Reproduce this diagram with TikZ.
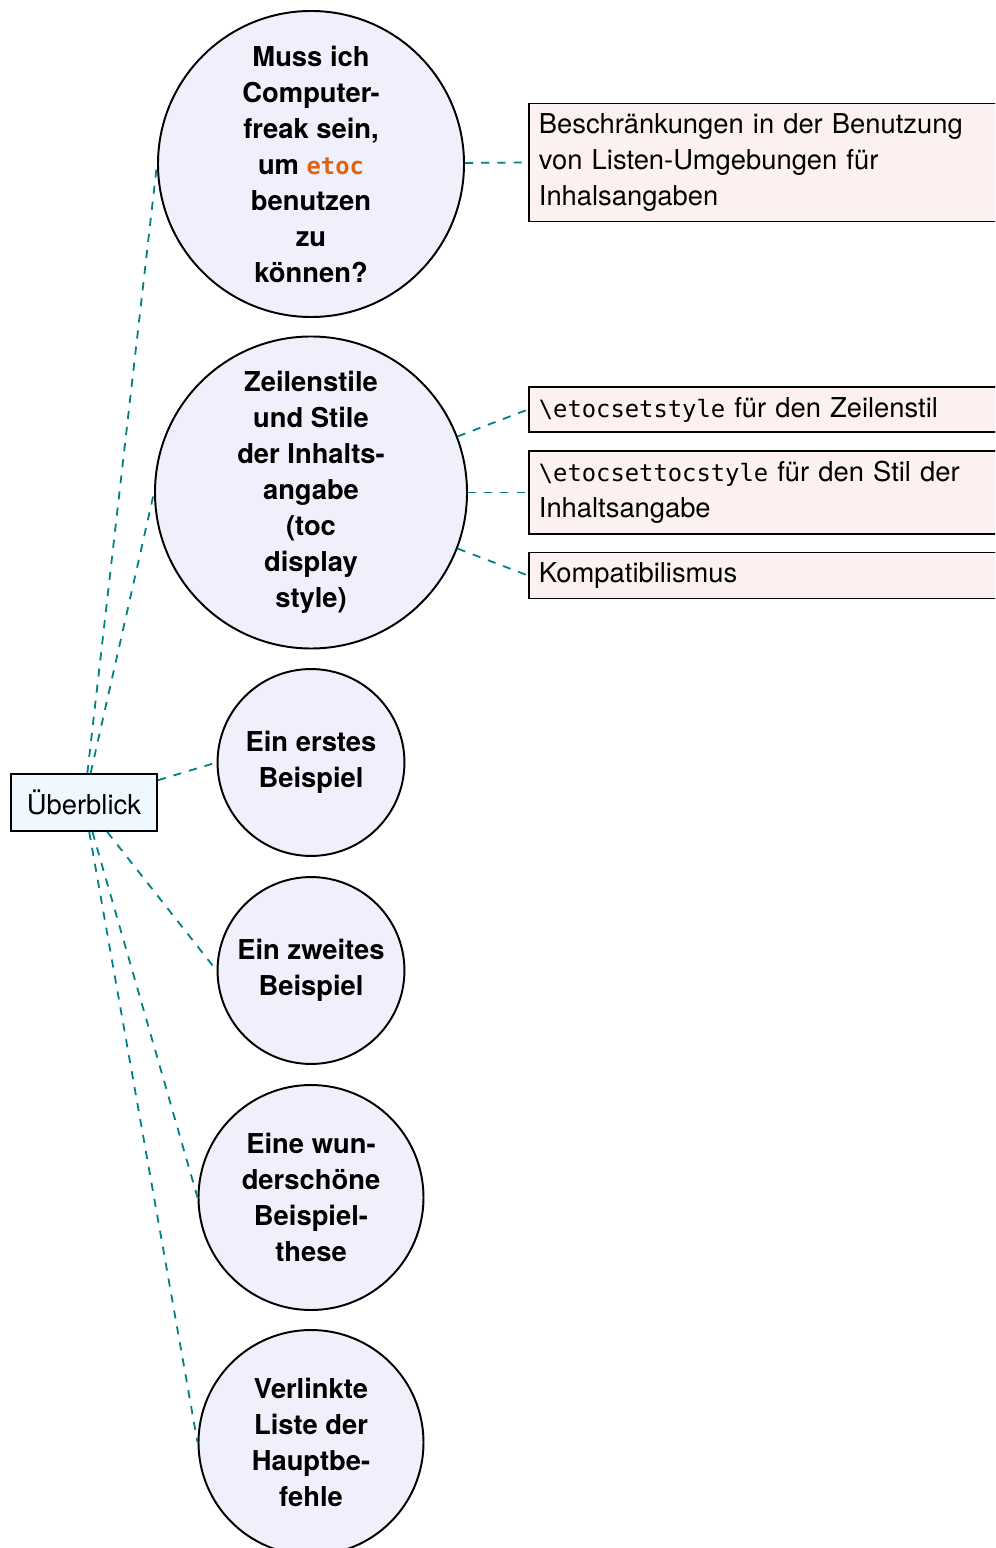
\documentclass[tikz,border=0pt]{standalone}
\usepackage{fontspec}
\setmainfont{TeX Gyre Heros}
\setmonofont{DejaVu Sans Mono}[Scale=0.87]
\definecolor{bubblefill}{RGB}{240,240,253}
\definecolor{leaffill}{RGB}{253,240,240}
\definecolor{rootfill}{RGB}{240,248,255}
\definecolor{linkcol}{RGB}{0,128,128}
\definecolor{etocorange}{RGB}{222,100,20}
\begin{document}
\begin{tikzpicture}[x=0.33333pt,y=-0.33333pt,
  font=\fontsize{9.12}{12}\selectfont,
  bubble/.style={circle,draw,line width=0.65pt,fill=bubblefill,align=center,inner sep=0pt,
    font=\fontsize{9.12}{12}\selectfont\bfseries},
  leaf/.style={draw,line width=0.6pt,fill=leaffill,anchor=west,text width=160pt,align=left},
  rootbox/.style={draw,line width=0.6pt,fill=rootfill,minimum width=48.7pt,minimum height=19pt,inner sep=0pt},
  link/.style={draw=linkcol,dash pattern=on 2.7pt off 2.7pt,line width=0.6pt}]
\useasboundingbox (0,0) rectangle (995,1548);
\clip (0,0) rectangle (995,1548);

\node[rootbox] (ueb) at (84,802.5) {Überblick};

\node[bubble,minimum size=102pt] (c1) at (311,164)
  {Muss ich\\Computer-\\freak sein,\\um \textcolor{etocorange}{\texttt{etoc}}\\benutzen\\zu\\können?};
\node[bubble,minimum size=104pt] (c2) at (311,492.5)
  {Zeilenstile\\und Stile\\der Inhalts-\\angabe\\(toc\\display\\style)};
\node[bubble,minimum size=62.3pt] (c3) at (311,762.5) {Ein erstes\\Beispiel};
\node[bubble,minimum size=62.3pt] (c4) at (311,970.5) {Ein zweites\\Beispiel};
\node[bubble,minimum size=75pt] (c5) at (311,1197.5) {Eine wun-\\derschöne\\Beispiel-\\these};
\node[bubble,minimum size=75pt] (c6) at (311,1442.5) {Verlinkte\\Liste der\\Hauptbe-\\fehle};

\node[leaf] (la) at (528,162.5) {Beschränkungen in der Benutzung\\von Listen-Umgebungen für\\Inhalsangaben};
\node[leaf] (lb) at (528,409.5) {\texttt{\textbackslash etocsetstyle} für den Zeilenstil};
\node[leaf] (lc) at (528,492.5) {\texttt{\textbackslash etocsettocstyle} für den Stil der\\Inhaltsangabe};
\node[leaf] (ld) at (528,575.5) {Kompatibilismus};

\foreach \c in {c1,c2,c3,c4,c5,c6}
  \draw[link] (ueb) -- (\c.west);
\draw[link] (c1) -- (la.west);
\draw[link] (c2) -- (lb.west);
\draw[link] (c2) -- (lc.west);
\draw[link] (c2) -- (ld.west);
\end{tikzpicture}
\end{document}
